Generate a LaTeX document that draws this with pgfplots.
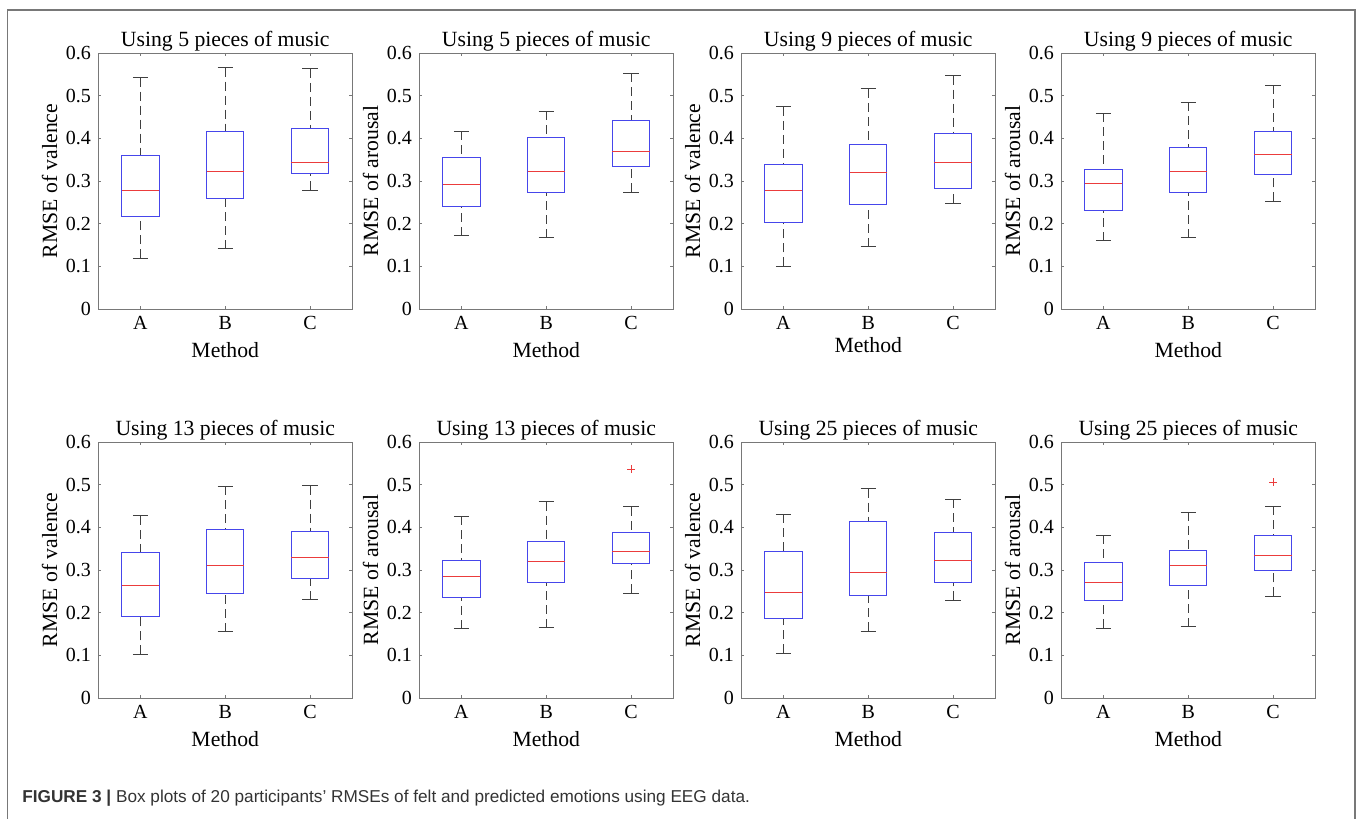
\documentclass[border=0pt]{standalone}
\usepackage{fontspec}
\setmainfont{Liberation Serif}
\setsansfont{Liberation Sans}
\usepackage{pgfplots}
\pgfplotsset{compat=1.18}
\usepgfplotslibrary{statistics}

\definecolor{boxblue}{RGB}{70,70,235}
\definecolor{medred}{RGB}{235,60,60}
\definecolor{axgray}{RGB}{120,120,120}

\tikzset{wdash/.style={dash pattern=on 4.5pt off 2.5pt}}
\pgfplotsset{
  boxplot/draw/lower whisker/.code={%
    \draw[/pgfplots/boxplot/every whisker/.try,wdash]
      (boxplot box cs:\pgfplotsboxplotvalue{lower whisker},0.5) --
      (boxplot box cs:\pgfplotsboxplotvalue{lower quartile},0.5);
    \draw[/pgfplots/boxplot/every whisker/.try]
      (boxplot whisker cs:\pgfplotsboxplotvalue{lower whisker},0) --
      (boxplot whisker cs:\pgfplotsboxplotvalue{lower whisker},1);},
  boxplot/draw/upper whisker/.code={%
    \draw[/pgfplots/boxplot/every whisker/.try,wdash]
      (boxplot box cs:\pgfplotsboxplotvalue{upper whisker},0.5) --
      (boxplot box cs:\pgfplotsboxplotvalue{upper quartile},0.5);
    \draw[/pgfplots/boxplot/every whisker/.try]
      (boxplot whisker cs:\pgfplotsboxplotvalue{upper whisker},0) --
      (boxplot whisker cs:\pgfplotsboxplotvalue{upper whisker},1);},
  boxplot/every box/.style={draw=boxblue,line width=0.45pt},
  boxplot/every median/.style={draw=medred,line width=0.45pt},
  boxplot/every whisker/.style={draw=black!75,line width=0.45pt},
  outl/.style={only marks,mark=+,mark size=2pt,mark options={draw=medred,line width=0.45pt}},
  panel/.style={
    scale only axis,width=127.25pt,height=128pt,anchor=south west,
    xmin=0.5,xmax=3.5,ymin=0,ymax=0.6,
    xtick={1,2,3},xticklabels={A,B,C},
    ytick={0,0.1,0.2,0.3,0.4,0.5,0.6},
    /pgf/number format/assume math mode=true,
    tick align=inside,major tick length=1.6pt,
    tick style={axgray,line width=0.4pt},
    axis line style={axgray,line width=0.5pt},
    tick label style={font=\fontsize{10}{12}\selectfont},
    every axis title/.style={at={(0.5,1)},anchor=base,yshift=3.5pt,
      font=\fontsize{10.85}{13}\selectfont},
    every axis y label/.style={at={(axis description cs:-0.19,0.5)},rotate=90,anchor=center,
      font=\fontsize{10.85}{13}\selectfont},
    every axis x label/.style={at={(axis description cs:0.5,-0.16)},anchor=center,
      font=\fontsize{10.85}{13}\selectfont},
    xlabel={Method},
    boxplot/draw direction=y,
    boxplot/box extend=0.44,boxplot/whisker extend=0.18,
  },
}

% \bx{position}{lower whisker}{lower quartile}{median}{upper quartile}{upper whisker}
\newcommand{\bx}[6]{\addplot[boxplot prepared={draw position=#1,
  lower whisker=#2,lower quartile=#3,median=#4,upper quartile=#5,upper whisker=#6}]
  coordinates {};}

\begin{document}
\begin{tikzpicture}
\path[use as bounding box] (0pt,0pt) rectangle (680pt,-409.5pt);
\draw[axgray,line width=0.8pt] (3.7pt,-409.5pt) -- (3.7pt,-5pt) -- (677.5pt,-5pt) -- (677.5pt,-409.5pt);

% row 1
\begin{axis}[panel,at={(49pt,-154.5pt)},title={Using 5 pieces of music},ylabel={RMSE of valence}]
\bx{1}{0.119}{0.217}{0.277}{0.360}{0.542}
\bx{2}{0.141}{0.258}{0.322}{0.416}{0.566}
\bx{3}{0.279}{0.317}{0.343}{0.423}{0.563}
\end{axis}
\begin{axis}[panel,at={(209.5pt,-154.5pt)},title={Using 5 pieces of music},ylabel={RMSE of arousal}]
\bx{1}{0.172}{0.241}{0.293}{0.355}{0.417}
\bx{2}{0.167}{0.272}{0.323}{0.402}{0.463}
\bx{3}{0.274}{0.333}{0.369}{0.442}{0.552}
\end{axis}
\begin{axis}[panel,at={(370.5pt,-154.5pt)},title={Using 9 pieces of music},ylabel={RMSE of valence},
  every axis x label/.append style={at={(axis description cs:0.5,-0.14)}}]
\bx{1}{0.100}{0.204}{0.279}{0.338}{0.474}
\bx{2}{0.146}{0.244}{0.321}{0.386}{0.516}
\bx{3}{0.248}{0.283}{0.344}{0.412}{0.547}
\end{axis}
\begin{axis}[panel,at={(530.5pt,-154.5pt)},title={Using 9 pieces of music},ylabel={RMSE of arousal}]
\bx{1}{0.160}{0.232}{0.294}{0.326}{0.459}
\bx{2}{0.167}{0.273}{0.323}{0.378}{0.484}
\bx{3}{0.252}{0.315}{0.362}{0.415}{0.525}
\end{axis}

% row 2
\begin{axis}[panel,at={(49pt,-349pt)},title={Using 13 pieces of music},ylabel={RMSE of valence}]
\bx{1}{0.102}{0.191}{0.264}{0.340}{0.427}
\bx{2}{0.155}{0.244}{0.311}{0.395}{0.496}
\bx{3}{0.230}{0.281}{0.329}{0.391}{0.498}
\end{axis}
\begin{axis}[panel,at={(209.5pt,-349pt)},title={Using 13 pieces of music},ylabel={RMSE of arousal}]
\bx{1}{0.162}{0.235}{0.284}{0.322}{0.426}
\bx{2}{0.165}{0.270}{0.320}{0.367}{0.460}
\bx{3}{0.245}{0.316}{0.344}{0.387}{0.448}
\addplot[outl] coordinates {(3,0.536)};
\end{axis}
\begin{axis}[panel,at={(370.5pt,-349pt)},title={Using 25 pieces of music},ylabel={RMSE of valence}]
\bx{1}{0.105}{0.186}{0.247}{0.344}{0.431}
\bx{2}{0.157}{0.240}{0.294}{0.414}{0.491}
\bx{3}{0.229}{0.270}{0.322}{0.389}{0.466}
\end{axis}
\begin{axis}[panel,at={(530.5pt,-349pt)},title={Using 25 pieces of music},ylabel={RMSE of arousal}]
\bx{1}{0.163}{0.229}{0.271}{0.318}{0.381}
\bx{2}{0.167}{0.264}{0.311}{0.345}{0.436}
\bx{3}{0.238}{0.300}{0.333}{0.380}{0.449}
\addplot[outl] coordinates {(3,0.506)};
\end{axis}

\node[anchor=base west,inner sep=0pt,font=\sffamily\fontsize{8.6}{10}\selectfont,text=black!80]
  at (11pt,-401pt) {\textbf{FIGURE 3 |} Box plots of 20 participants' RMSEs of felt and predicted emotions using EEG data.};
\end{tikzpicture}
\end{document}
